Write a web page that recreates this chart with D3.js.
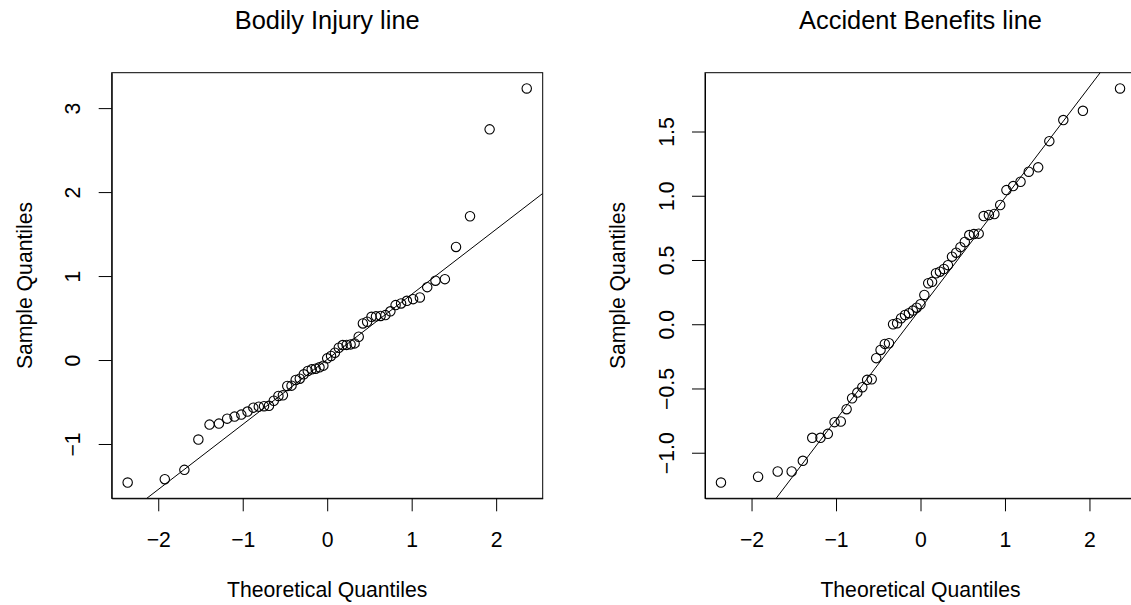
<!DOCTYPE html>
<html>
<head>
<meta charset="utf-8">
<script src="https://cdn.jsdelivr.net/npm/d3@7"></script>
<style>
  body { margin: 0; background: #fff; }
  svg { display: block; font-family: "Liberation Sans", Arial, Helvetica, sans-serif; }
</style>
</head>
<body>
<svg id="chart" width="1131" height="605"></svg>
<script>
// Normal scores for n = 55 plotting positions (i - 0.5) / n
const theoreticalQuantiles = [
  -2.3620, -1.9225, -1.6906, -1.5250, -1.3930, -1.2816, -1.1841, -1.0968, -1.0171, -0.9435,
  -0.8746, -0.8096, -0.7479, -0.6889, -0.6322, -0.5775, -0.5244, -0.4728, -0.4224, -0.3731,
  -0.3246, -0.2770, -0.2299, -0.1833, -0.1372, -0.0913, -0.0456, 0.0000, 0.0456, 0.0913,
  0.1372, 0.1833, 0.2299, 0.2770, 0.3246, 0.3731, 0.4224, 0.4728, 0.5244, 0.5775,
  0.6322, 0.6889, 0.7479, 0.8096, 0.8746, 0.9435, 1.0171, 1.0968, 1.1841, 1.2816,
  1.3930, 1.5250, 1.6906, 1.9225, 2.3620
];

// Sorted sample residuals, bodily injury line
const bodilyInjury = [
  -1.459, -1.419, -1.308, -0.947, -0.769, -0.757, -0.698, -0.674, -0.650, -0.614,
  -0.567, -0.555, -0.550, -0.545, -0.485, -0.428, -0.420, -0.309, -0.305, -0.238,
  -0.222, -0.170, -0.131, -0.111, -0.103, -0.087, -0.067, 0.020, 0.048, 0.087,
  0.146, 0.178, 0.180, 0.186, 0.198, 0.277, 0.436, 0.456, 0.515, 0.520,
  0.525, 0.535, 0.580, 0.654, 0.674, 0.705, 0.725, 0.745, 0.868, 0.945,
  0.963, 1.347, 1.712, 2.747, 3.234
];

// Sorted sample residuals, accident benefits line
const accidentBenefits = [
  -1.232, -1.187, -1.146, -1.146, -1.063, -0.884, -0.884, -0.853, -0.762, -0.757,
  -0.661, -0.576, -0.532, -0.490, -0.433, -0.428, -0.264, -0.200, -0.153, -0.148,
  0.000, 0.008, 0.047, 0.072, 0.086, 0.106, 0.129, 0.156, 0.228, 0.319,
  0.330, 0.397, 0.409, 0.430, 0.460, 0.526, 0.557, 0.600, 0.640, 0.694,
  0.702, 0.705, 0.842, 0.850, 0.858, 0.928, 1.044, 1.075, 1.109, 1.187,
  1.221, 1.425, 1.589, 1.661, 1.835
];

const panelTitles = ["Bodily Injury line", "Accident Benefits line"];
const xTicks = [-2, -1, 0, 1, 2];
const bodilyTicks = [-1, 0, 1, 2, 3];
const accidentTicks = [-1.0, -0.5, 0.0, 0.5, 1.0, 1.5];
const normalQuartiles = [-0.6744898, 0.6744898];

const svg = d3.select("#chart");
svg.append("rect").attr("width", 1131).attr("height", 605).attr("fill", "#fff");

const plotTop = 72.7, plotBottom = 498.3, plotWidth = 431;
const axisFont = 21.2, titleFont = 25.4;
const minus = s => s.replace(/-/g, "\u2212");

// axis limits padded by 4% of the data range on each side
function padded(values) {
  const [lo, hi] = d3.extent(values);
  const r = hi - lo;
  return [lo - 0.04 * r, hi + 0.04 * r];
}

const panels = [
  { left: 111.7, title: panelTitles[0], values: bodilyInjury, ticks: bodilyTicks, fmt: d3.format("d") },
  { left: 705.0, title: panelTitles[1], values: accidentBenefits, ticks: accidentTicks, fmt: d3.format(".1f") }
];

panels.forEach((p, k) => {
  const right = p.left + plotWidth;
  const cx = (p.left + right) / 2;
  const cy = (plotTop + plotBottom) / 2;

  const x = d3.scaleLinear().domain(padded(theoreticalQuantiles)).range([p.left, right]);
  const y = d3.scaleLinear().domain(padded(p.values)).range([plotBottom, plotTop]);

  const g = svg.append("g");

  // clip region for the reference line
  const clipId = "plotclip" + k;
  svg.append("clipPath").attr("id", clipId)
    .append("rect").attr("x", p.left).attr("y", plotTop)
    .attr("width", plotWidth).attr("height", plotBottom - plotTop);

  // x axis
  const gx = g.append("g").attr("transform", `translate(0,${plotBottom})`)
    .call(d3.axisBottom(x).tickValues(xTicks).tickSize(13).tickSizeOuter(0)
      .tickFormat(d => minus(d3.format("d")(d))));
  gx.attr("font-family", null).attr("font-size", null);
  gx.select(".domain").attr("stroke", "#000");
  gx.selectAll(".tick line").attr("stroke", "#000");
  gx.selectAll(".tick text").attr("y", 48.4).attr("dy", null)
    .attr("font-size", axisFont).attr("fill", "#000");

  // y axis
  const gy = g.append("g").attr("transform", `translate(${p.left},0)`)
    .call(d3.axisLeft(y).tickValues(p.ticks).tickSize(13).tickSizeOuter(0)
      .tickFormat(d => minus(p.fmt(d))));
  gy.attr("font-family", null).attr("font-size", null);
  gy.select(".domain").attr("stroke", "#000");
  gy.selectAll(".tick line").attr("stroke", "#000");
  gy.selectAll(".tick text")
    .attr("x", null).attr("dy", null)
    .attr("transform", "translate(-31.5,0) rotate(-90)")
    .attr("text-anchor", "middle")
    .attr("font-size", axisFont).attr("fill", "#000");

  // plot frame
  g.append("rect").attr("x", p.left).attr("y", plotTop)
    .attr("width", plotWidth).attr("height", plotBottom - plotTop)
    .attr("fill", "none").attr("stroke", "#000").attr("stroke-width", 1);

  // reference line through the quartiles
  const q1 = d3.quantile(p.values, 0.25), q3 = d3.quantile(p.values, 0.75);
  const slope = (q3 - q1) / (normalQuartiles[1] - normalQuartiles[0]);
  const intercept = q1 - slope * normalQuartiles[0];
  const [x0, x1] = x.domain();
  g.append("line")
    .attr("clip-path", `url(#${clipId})`)
    .attr("x1", x(x0)).attr("y1", y(intercept + slope * x0))
    .attr("x2", x(x1)).attr("y2", y(intercept + slope * x1))
    .attr("stroke", "#000").attr("stroke-width", 1);

  // points
  g.append("g").selectAll("circle")
    .data(p.values)
    .join("circle")
    .attr("cx", (d, i) => x(theoreticalQuantiles[i]))
    .attr("cy", d => y(d))
    .attr("r", 4.7)
    .attr("fill", "none").attr("stroke", "#000").attr("stroke-width", 1.1);

  // titles
  g.append("text").attr("x", cx).attr("y", 28.5)
    .attr("text-anchor", "middle").attr("font-size", titleFont)
    .text(p.title);
  g.append("text").attr("x", cx).attr("y", plotBottom + 99)
    .attr("text-anchor", "middle").attr("font-size", axisFont)
    .text("Theoretical Quantiles");
  g.append("text")
    .attr("transform", `translate(${p.left - 80},${cy}) rotate(-90)`)
    .attr("text-anchor", "middle").attr("font-size", axisFont)
    .text("Sample Quantiles");
});
</script>
</body>
</html>
